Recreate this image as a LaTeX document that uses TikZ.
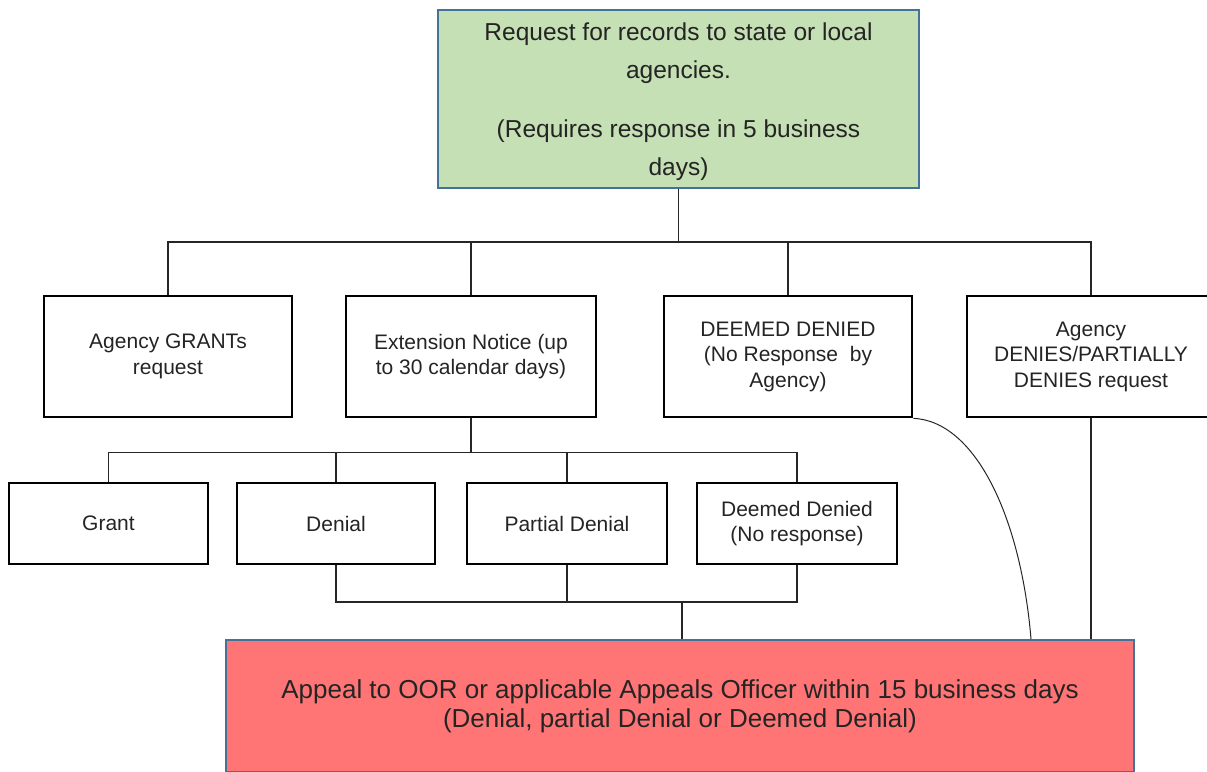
\documentclass[tikz,border=0pt]{standalone}
\usepackage{fontspec}
\setmainfont{Liberation Sans}
\usetikzlibrary{positioning}
\definecolor{reqgreen}{RGB}{197,224,180}
\definecolor{appealred}{RGB}{255,117,117}
\definecolor{edgeblue}{RGB}{68,114,152}
\definecolor{txtgray}{RGB}{36,36,36}

\begin{document}
\begin{tikzpicture}[x=1pt,y=-1pt,
  box/.style={draw=black,line width=2.6pt,text=txtgray,align=center,inner sep=0pt,
    font=\fontsize{21}{25.5}\selectfont},
  wide/.style={box,minimum width=248pt,minimum height=121pt},
  small/.style={box,minimum height=81pt},
  link/.style={draw=black!85,line width=1.2pt}]
\useasboundingbox (0,0) rectangle (1207,771);
\clip (0,0) rectangle (1207,771);

%top - request
\node[box,draw=edgeblue,line width=2pt,fill=reqgreen,minimum width=481pt,minimum height=178pt] (req) at (678.5,99) {};
\node[text=txtgray,align=center,inner sep=0pt,font=\fontsize{24.5}{38}\selectfont] (reqtxt) at (678.5,102)
  {Request for records to state or local\\agencies.\\[21pt](Requires response in 5 business\\days)};

%row 1 - boxes
\node[wide] (grants) at (168,356.5) {Agency GRANTs\\request};
\node[wide,minimum width=250pt] (ext) at (471,356.5) {Extension Notice (up\\to 30 calendar days)};
\node[wide] (deemed) at (788,356.5) {DEEMED DENIED\\(No Response\ \ by\\Agency)};
\node[wide] (denies) at (1091,356.5) {Agency\\DENIES/PARTIALLY\\DENIES request};

%row 2 - boxes
\node[small,minimum width=199pt] (grant) at (108.5,523.5) {Grant};
\node[small,minimum width=198pt] (denial) at (336,523.5) {Denial};
\node[small,minimum width=200pt] (partial) at (567,523.5) {Partial Denial};
\node[small,minimum width=200pt] (dnr) at (797,523.5) {Deemed Denied\\(No response)};

%bottom - appeal
\node[box,draw=edgeblue,line width=2pt,fill=appealred,minimum width=908pt,minimum height=132pt,
  font=\fontsize{26}{29}\selectfont] (appeal) at (680,706)
  {Appeal to OOR or applicable Appeals Officer within 15 business days\\(Denial, partial Denial or Deemed Denial)};

%request - lines
\draw[link] (req.south) -- ++(0,53) coordinate (busA);
\foreach \n in {grants,ext,deemed,denies}
  \draw[link] (busA) -| (\n.north);

%extension - lines
\draw[link] (ext.south) -- ++(0,34) coordinate (busB);
\foreach \n in {grant,denial,partial,dnr}
  \draw[link] (busB) -| (\n.north);

%appeal - lines
\draw[link] ([xshift=2pt]appeal.north) -- ++(0,-37) coordinate (busC);
\foreach \n in {denial,partial,dnr}
  \draw[link] (\n.south) |- (busC);
\draw[link] (denies.south) -- (denies.south |- appeal.north);	%denies--appeal
\draw[draw=black!85,line width=1pt] (deemed.south east)
  .. controls +(63,3) and +(-10,-120) .. ([xshift=-104pt]appeal.north east);	%deemed--appeal
\end{tikzpicture}
\end{document}
